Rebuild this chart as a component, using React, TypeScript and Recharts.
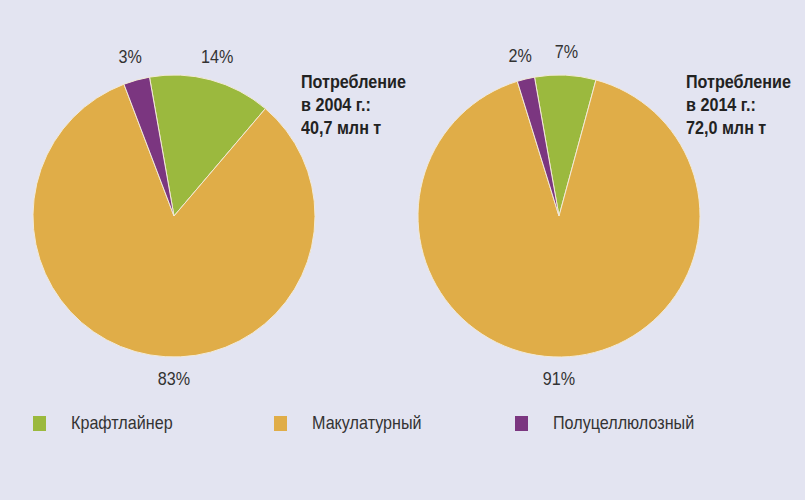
import { PieChart, Pie, Cell, Legend } from "recharts"

// Consumption shares by type of raw material
const categories = ["Крафтлайнер", "Макулатурный", "Полуцеллюлозный"]
const share2004 = [14, 83, 3]
const share2014 = [7, 91, 2]
const titles2004 = ["Потребление", "в 2004 г.:", "40,7 млн т"]
const titles2014 = ["Потребление", "в 2014 г.:", "72,0 млн т"]

const colors = ["#9bb93e", "#e0ad48", "#7b3680"]
const FONT = "'Liberation Sans', Arial, sans-serif"
const SQUEEZE = 0.85 // the original uses a condensed face
const RAD = Math.PI / 180

const data2004 = categories.map((name, i) => ({ name, value: share2004[i] }))
const data2014 = categories.map((name, i) => ({ name, value: share2014[i] }))

const renderLabel = (props: any) => {
  const { cx, cy, midAngle, outerRadius, value } = props
  // big slice gets its label below the pie, small ones go out along the radius
  const angle = value > 50 ? -90 : midAngle
  const r = outerRadius + (value > 50 ? 22 : 24)
  const x = cx + r * Math.cos(angle * RAD)
  const y = cy - r * Math.sin(angle * RAD)
  return (
    <text
      transform={`translate(${x},${y}) scale(${SQUEEZE},1)`}
      fill="#333"
      fontSize={19}
      fontFamily={FONT}
      textAnchor="middle"
      dominantBaseline="central"
    >
      {value}%
    </text>
  )
}

const renderLegend = () => (
  <div style={{ display: "flex", fontFamily: FONT, fontSize: 19, color: "#333" }}>
    {categories.map((name, i) => (
      <div key={name} style={{ display: "flex", alignItems: "center", width: 241 }}>
        <span style={{ display: "inline-block", width: 13, height: 15, background: colors[i], marginRight: 25 }} />
        <span style={{ display: "inline-block", transform: `scaleX(${SQUEEZE})`, transformOrigin: "left center" }}>
          {name}
        </span>
      </div>
    ))}
  </div>
)

function Title({ lines, left }: { lines: string[]; left: number }) {
  return (
    <div
      style={{
        position: "absolute",
        left,
        top: 70,
        fontFamily: FONT,
        fontWeight: "bold",
        fontSize: 19,
        lineHeight: "23px",
        color: "#222",
        transform: `scaleX(${SQUEEZE})`,
        transformOrigin: "left top",
        whiteSpace: "nowrap",
      }}
    >
      {lines.map((l) => (
        <div key={l}>{l}</div>
      ))}
    </div>
  )
}

export default function App() {
  return (
    <div style={{ position: "absolute", left: 0, top: 0, width: 805, height: 500, background: "#e3e4f1" }}>
      <PieChart width={805} height={500} margin={{ top: 0, right: 0, bottom: 0, left: 0 }}>
        <Pie
          data={data2004}
          dataKey="value"
          cx={174}
          cy={216}
          outerRadius={141}
          startAngle={100}
          endAngle={-260}
          stroke="#f3ead6"
          strokeWidth={1}
          label={renderLabel}
          labelLine={false}
          isAnimationActive={false}
        >
          {data2004.map((d, i) => (
            <Cell key={d.name} fill={colors[i]} />
          ))}
        </Pie>
        <Pie
          data={data2014}
          dataKey="value"
          cx={559}
          cy={216}
          outerRadius={141}
          startAngle={100}
          endAngle={-260}
          stroke="#f3ead6"
          strokeWidth={1}
          label={renderLabel}
          labelLine={false}
          isAnimationActive={false}
        >
          {data2014.map((d, i) => (
            <Cell key={d.name} fill={colors[i]} />
          ))}
        </Pie>
        <Legend
          content={renderLegend}
          wrapperStyle={{ position: "absolute", left: 33, top: 412, width: 760 }}
        />
      </PieChart>
      <Title lines={titles2004} left={301} />
      <Title lines={titles2014} left={686} />
    </div>
  )
}
